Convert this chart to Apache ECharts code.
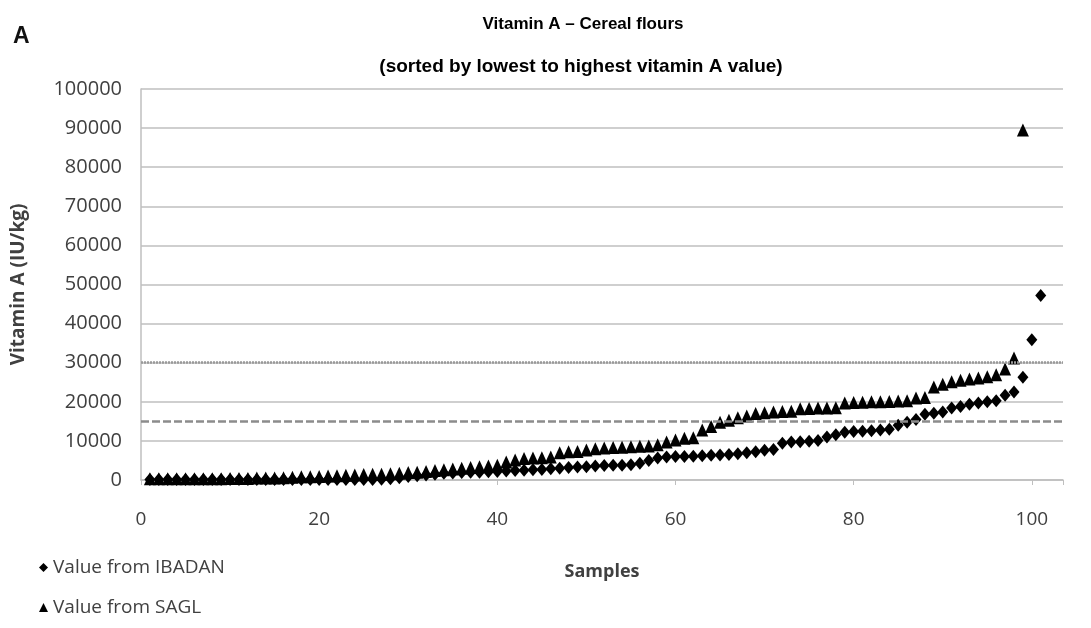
<!DOCTYPE html>
<html>
<head>
<meta charset="utf-8">
<script src="https://cdn.jsdelivr.net/npm/echarts@6/dist/echarts.min.js"></script>
<style>
  html, body { margin: 0; padding: 0; background: #fff; }
  #chart { width: 1091px; height: 628px; }
</style>
</head>
<body>
<div id="chart"></div>
<script>
// vitamin A values (IU/kg), samples sorted low -> high
const ibadanValues = [
  100, 100, 100, 100, 100, 100, 100, 100, 100, 100,
  100, 100, 100, 100, 100, 100, 100, 100, 100, 100,
  100, 100, 100, 100, 100, 150, 200, 300, 600, 900,
  1100, 1300, 1500, 1700, 1800, 1900, 2000, 2000, 2100, 2200,
  2300, 2400, 2500, 2600, 2700, 2900, 3000, 3200, 3300, 3400,
  3600, 3700, 3800, 3800, 3900, 4300, 5000, 5600, 5900, 6000,
  6000, 6100, 6200, 6300, 6400, 6500, 6700, 7000, 7200, 7600,
  7800, 9400, 9700, 9800, 9900, 10100, 11000, 11600, 12200, 12400,
  12500, 12600, 12800, 13000, 14000, 14800, 15500, 16800, 17100, 17400,
  18400, 18800, 19400, 19700, 20000, 20300, 21700, 22500, 26300, 35900,
  47200
];
const saglValues = [
  300, 300, 300, 300, 300, 300, 300, 300, 300, 400,
  400, 400, 500, 500, 500, 600, 700, 800, 800, 900,
  1000, 1100, 1200, 1300, 1400, 1500, 1500, 1600, 1700, 1900,
  2000, 2200, 2400, 2600, 2800, 3000, 3200, 3400, 3600, 3800,
  4600, 5100, 5500, 5600, 5700, 5900, 7000, 7200, 7300, 7700,
  8000, 8200, 8300, 8400, 8500, 8600, 8700, 9000, 9700, 10200,
  10700, 10800, 12800, 13700, 14800, 15300, 15900, 16400, 17000, 17200,
  17400, 17500, 17600, 18200, 18300, 18400, 18400, 18500, 19700, 19800,
  19900, 20000, 20000, 20100, 20200, 20300, 21000, 21100, 23800, 24500,
  25100, 25500, 25800, 26100, 26400, 26900, 28400, 31200, 89500
];
const limitLow = 15000;   // dashed
const limitHigh = 30000;  // dotted
const xTicks = [0, 20, 40, 60, 80, 100];

function toPoints(vals) {
  return vals.map((v, i) => [i + 1, v]);
}

const labelColor = '#404040';
const chart = echarts.init(document.getElementById('chart'));

chart.setOption({
  animation: false,
  backgroundColor: '#fff',
  title: [
    {
      text: 'Vitamin A – Cereal flours',
      left: 578, top: 11, textAlign: 'center',
      textStyle: { fontFamily: 'Liberation Sans', fontSize: 17, fontWeight: 'bold', color: '#000' }
    },
    {
      text: '(sorted by lowest to highest vitamin A value)',
      left: 576, top: 52, textAlign: 'center',
      textStyle: { fontFamily: 'Liberation Sans', fontSize: 19, fontWeight: 'bold', color: '#000' }
    },
    {
      text: 'A',
      left: 8, top: 20,
      textStyle: { fontFamily: 'Liberation Sans', fontSize: 23, fontWeight: 'bold', color: '#111' }
    }
  ],
  legend: {
    orient: 'vertical',
    left: 34, top: 553,
    itemGap: 21,
    itemWidth: 9, itemHeight: 9,
    data: [
      { name: 'Value from IBADAN', icon: 'diamond' },
      { name: 'Value from SAGL', icon: 'triangle' }
    ],
    itemStyle: { opacity: 1 },
    textStyle: { fontFamily: 'Open Sans', fontSize: 19, color: labelColor }
  },
  grid: { left: 141, right: 28, top: 89, bottom: 148, containLabel: false, outerBoundsMode: 'none' },
  xAxis: {
    type: 'value',
    min: 0, max: 103.5, interval: 20,
    name: 'Samples',
    nameLocation: 'middle',
    nameGap: 83,
    nameTextStyle: { fontFamily: 'Open Sans', fontSize: 18, fontWeight: 'bold', color: labelColor },
    axisLine: { show: true, lineStyle: { color: '#bfbfbf', width: 1.5 } },
    axisTick: { show: true, length: 5, lineStyle: { color: '#bfbfbf' } },
    splitLine: { show: false },
    axisLabel: {
      margin: 30,
      fontFamily: 'Open Sans', fontSize: 19, color: labelColor,
      formatter: v => (xTicks.indexOf(v) >= 0 ? String(v) : '')
    }
  },
  yAxis: {
    type: 'value',
    min: 0, max: 100000, interval: 10000,
    name: 'Vitamin A (IU/kg)',
    nameLocation: 'middle',
    nameGap: 113,
    nameRotate: 90,
    nameTextStyle: { fontFamily: 'Open Sans', fontSize: 19, fontWeight: 'bold', color: labelColor },
    axisLine: { show: true, lineStyle: { color: '#bfbfbf', width: 1.5 } },
    axisTick: { show: false },
    splitLine: { show: true, lineStyle: { color: '#bfbfbf', width: 1.5 } },
    axisLabel: {
      margin: 19, fontFamily: 'Open Sans', fontSize: 20, color: labelColor,
      formatter: v => String(v)
    }
  },
  series: [
    {
      name: 'Value from IBADAN',
      type: 'scatter',
      symbol: 'diamond',
      symbolSize: [11, 13],
      itemStyle: { color: '#000', opacity: 1 },
      data: toPoints(ibadanValues),
      markLine: {
        silent: true,
        symbol: 'none',
        label: { show: false },
        data: [
          { yAxis: limitLow, lineStyle: { type: [8, 3], color: '#8c8c8c', width: 2.5 } },
          { yAxis: limitHigh, lineStyle: { type: [2, 1], color: '#9a9a9a', width: 2.5 } }
        ]
      },
      z: 3
    },
    {
      name: 'Value from SAGL',
      type: 'scatter',
      symbol: 'triangle',
      symbolSize: [12, 13],
      itemStyle: { color: '#000', opacity: 1 },
      data: toPoints(saglValues),
      z: 4
    }
  ]
});
</script>
</body>
</html>
